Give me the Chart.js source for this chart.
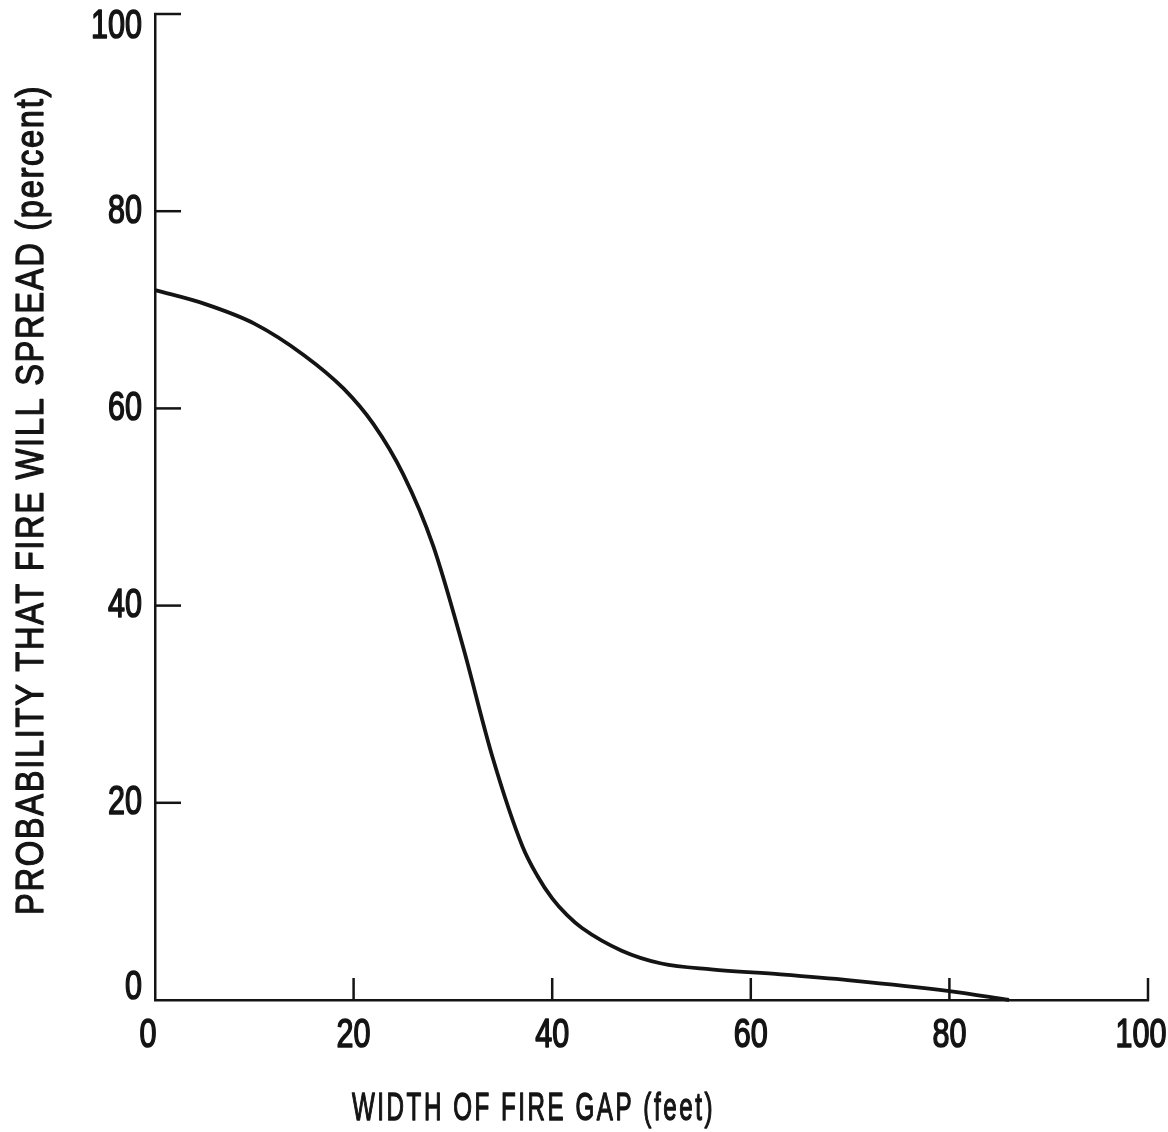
<!DOCTYPE html>
<html>
<head>
<meta charset="utf-8">
<script src="https://cdn.jsdelivr.net/npm/chart.js@4.4.1/dist/chart.umd.min.js"></script>
<style>
  html, body { margin: 0; padding: 0; background: #ffffff; }
  #wrap { width: 1168px; height: 1132px; position: relative; }
</style>
</head>
<body>
<div id="wrap"><canvas id="c" width="1168" height="1132"></canvas></div>
<script>
// Width of the fire gap (feet) and the probability that fire crosses it (percent)
const gapWidthFeet = [0, 5, 10, 15, 19, 22, 25, 28, 31, 34, 37, 38.5, 40, 41.5, 43, 47, 51, 56, 63, 70, 80, 86];
const spreadProbability = [72, 70.6, 68.6, 65.4, 62.0, 58.4, 53.3, 46.1, 35.9, 24.6, 15.6, 12.6, 10.3, 8.6, 7.3, 5.0, 3.7, 3.1, 2.6, 2.0, 0.9, 0];

const xTickValues = [0, 20, 40, 60, 80, 100];
const yTickValues = [0, 20, 40, 60, 80, 100];
const xTickLabels = ['0', '20', '40', '60', '80', '100'];
const yTickLabels = ['0', '20', '40', '60', '80', '100'];

const xTitle = 'WIDTH OF FIRE GAP (feet)';
const yTitle = 'PROBABILITY THAT FIRE WILL SPREAD (percent)';

const INK = '#141414';
const FONT = '"Liberation Sans", Arial, sans-serif';

// Draws text squeezed horizontally so it reads like a condensed typeface
function condensedText(ctx, text, x, y, sx, align, weight) {
  ctx.save();
  ctx.translate(x, y);
  ctx.scale(sx, 1);
  ctx.textAlign = align;
  ctx.fillText(text, 0, 0);
  ctx.lineWidth = weight;
  ctx.strokeText(text, 0, 0);
  ctx.restore();
}

const axisDecor = {
  id: 'axisDecor',
  afterDraw(chart) {
    const ctx = chart.ctx;
    const xs = chart.scales.x, ys = chart.scales.y;
    const area = chart.chartArea;
    ctx.save();
    ctx.strokeStyle = INK;
    ctx.fillStyle = INK;
    ctx.lineWidth = 2.5;
    ctx.lineCap = 'butt';

    // inward tick marks
    xTickValues.forEach(v => {
      if (v === 0) return;
      const px = xs.getPixelForValue(v);
      ctx.beginPath();
      ctx.moveTo(px, area.bottom + 1);
      ctx.lineTo(px, area.bottom - 22);
      ctx.stroke();
    });
    yTickValues.forEach(v => {
      if (v === 0) return;
      const py = ys.getPixelForValue(v);
      ctx.beginPath();
      ctx.moveTo(area.left - 1, py);
      ctx.lineTo(area.left + 26, py);
      ctx.stroke();
    });

    // tick labels
    ctx.font = '41px ' + FONT;
    ctx.textBaseline = 'middle';
    ctx.lineJoin = 'round';
    const sx = 34 / ctx.measureText('80').width;
    yTickValues.forEach((v, i) => {
      let py = ys.getPixelForValue(v);
      py = Math.max(py, area.top + 13);
      if (v === 0) py -= 12;
      condensedText(ctx, yTickLabels[i], area.left - 13, py, sx, 'right', 1.6);
    });
    xTickValues.forEach((v, i) => {
      let px = xs.getPixelForValue(v);
      if (v === 0 || v === 100) px -= 7;
      condensedText(ctx, xTickLabels[i], px, area.bottom + 36, sx, 'center', 1.6);
    });

    // axis titles
    ctx.font = '38px ' + FONT;
    ctx.textBaseline = 'alphabetic';
    ctx.letterSpacing = '4px';
    const xsx = 363 / ctx.measureText(xTitle).width;
    condensedText(ctx, xTitle, 352, 1120, xsx, 'left', 1.3);

    ctx.font = '39px ' + FONT;
    ctx.letterSpacing = '2px';
    const ysx = 830 / ctx.measureText(yTitle).width;
    ctx.save();
    ctx.translate(43, 915);
    ctx.rotate(-Math.PI / 2);
    condensedText(ctx, yTitle, 0, 0, ysx, 'left', 1.3);
    ctx.restore();

    ctx.restore();
  }
};

new Chart(document.getElementById('c'), {
  type: 'line',
  data: {
    datasets: [{
      data: gapWidthFeet.map((w, i) => ({ x: w, y: spreadProbability[i] })),
      borderColor: INK,
      borderWidth: 3.8,
      pointRadius: 0,
      fill: false,
      cubicInterpolationMode: 'monotone',
      clip: false
    }]
  },
  options: {
    responsive: false,
    animation: false,
    devicePixelRatio: 1,
    layout: { padding: { top: 14, right: 20, left: 0, bottom: 0 } },
    plugins: { legend: { display: false }, tooltip: { enabled: false } },
    scales: {
      x: {
        type: 'linear',
        min: 0,
        max: 100,
        afterBuildTicks: s => { s.ticks = xTickValues.map(v => ({ value: v })); },
        ticks: { display: false },
        grid: { display: true, drawOnChartArea: false, drawTicks: false },
        border: { display: true, color: INK, width: 2.5 },
        afterFit: s => { s.height = 132; s.paddingLeft = 0; s.paddingRight = 0; }
      },
      y: {
        type: 'linear',
        min: 0,
        max: 100,
        afterBuildTicks: s => { s.ticks = yTickValues.map(v => ({ value: v })); },
        ticks: { display: false },
        grid: { display: true, drawOnChartArea: false, drawTicks: false },
        border: { display: true, color: INK, width: 2.5 },
        afterFit: s => { s.width = 155; s.paddingTop = 0; s.paddingBottom = 0; }
      }
    }
  },
  plugins: [axisDecor]
});
</script>
</body>
</html>
